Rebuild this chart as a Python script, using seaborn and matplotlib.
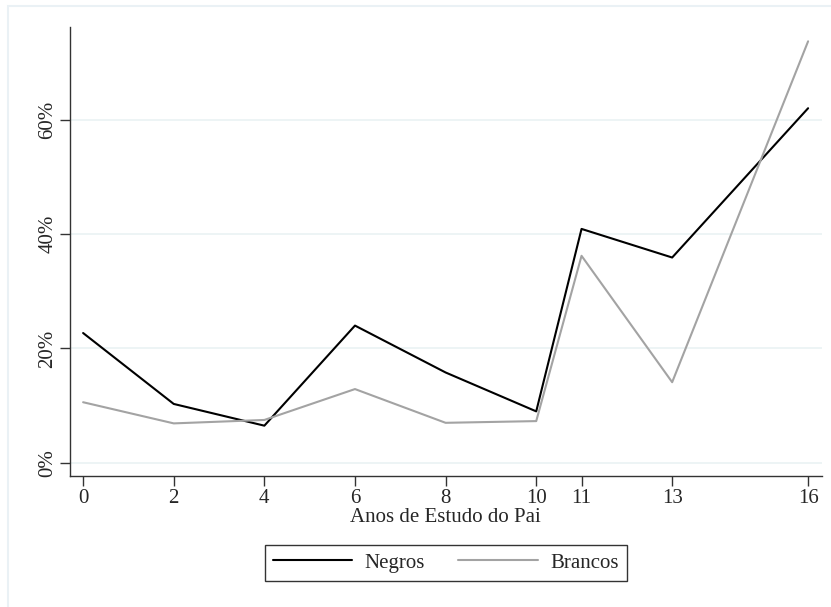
import matplotlib
matplotlib.use("Agg")
import matplotlib.pyplot as plt
import matplotlib.patches as mpatches
import pandas as pd
import seaborn as sns
from matplotlib.ticker import PercentFormatter

# Anos de estudo do pai vs. share (%)
anos = [0, 2, 4, 6, 8, 10, 11, 13, 16]
negros = [22.7, 10.3, 6.5, 24.0, 15.8, 9.0, 40.9, 35.9, 62.0]
brancos = [10.6, 6.9, 7.5, 12.9, 7.0, 7.3, 36.2, 14.1, 73.7]
grupos = ["Negros", "Brancos"]
cores = {"Negros": "#000000", "Brancos": "#a3a3a3"}

df = pd.concat([
    pd.DataFrame({"anos": anos, "pct": negros, "grupo": "Negros"}),
    pd.DataFrame({"anos": anos, "pct": brancos, "grupo": "Brancos"}),
])

sns.set_theme(style="white")
plt.rcParams["font.family"] = ["Liberation Serif", "DejaVu Serif"]
FS = 15

fig = plt.figure(figsize=(8.31, 6.07), dpi=100)
ax = fig.add_axes([0.0842, 0.2158, 0.9046, 0.7397])

# light outer frame (graph region border)
fig.patches.append(mpatches.Rectangle((8 / 831, -0.05), 1.2, 1 - 6 / 607 + 0.05,
                                      transform=fig.transFigure, fill=False,
                                      edgecolor="#eaf1f5", linewidth=1.5))

sns.lineplot(data=df, x="anos", y="pct", hue="grupo", hue_order=grupos,
             palette=cores, ax=ax, linewidth=1.5, legend=False)

ax.set_xlim(-0.29, 16.3)
ax.set_ylim(-2.3, 76.2)
ax.set_xticks(anos)
ax.set_yticks([0, 20, 40, 60])
ax.yaxis.set_major_formatter(PercentFormatter(decimals=0))
ax.grid(axis="y", color="#eaf2f3", linewidth=1.2)
ax.set_axisbelow(True)

for s in ["top", "right"]:
    ax.spines[s].set_visible(False)
for s in ["left", "bottom"]:
    ax.spines[s].set_color("#333333")
    ax.spines[s].set_linewidth(1.0)

ax.tick_params(axis="both", which="major", length=7, width=1.0, color="#333333",
               labelsize=FS, pad=2, bottom=True, left=True)
for lab in ax.get_yticklabels():
    lab.set_rotation(90)
    lab.set_va("center")

ax.set_xlabel("Anos de Estudo do Pai", fontsize=FS, labelpad=0)
ax.set_ylabel("")

handles = [plt.Line2D([], [], color=cores[g], linewidth=1.5) for g in grupos]
leg = ax.legend(handles, grupos, loc="upper center", bbox_to_anchor=(0.5, -0.13),
                ncol=2, frameon=True, fancybox=False, fontsize=FS,
                handlelength=3.8, columnspacing=1.6, borderpad=0.4,
                handletextpad=0.6)
leg.get_frame().set_edgecolor("#000000")
leg.get_frame().set_linewidth(1.0)

fig.savefig("out.png", dpi=100, facecolor="white")
